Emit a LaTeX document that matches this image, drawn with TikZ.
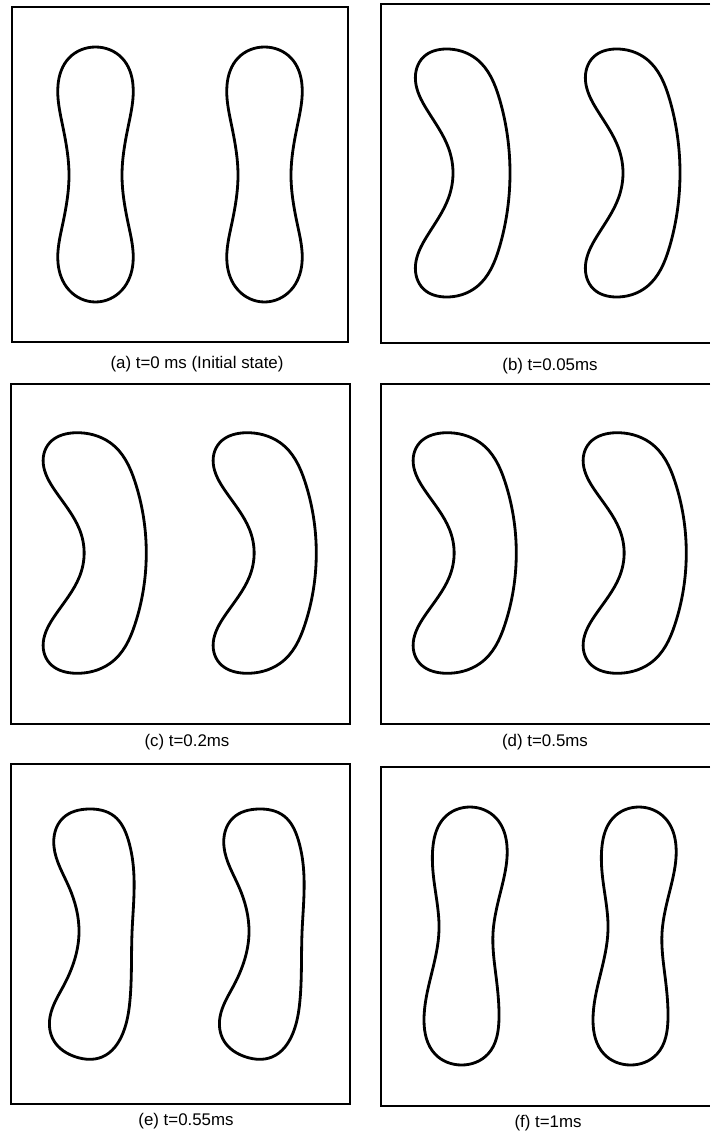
\documentclass[tikz,border=0pt]{standalone}
\usepackage{fontspec}
\setmainfont{Liberation Sans}
\usetikzlibrary{hobby}

\begin{document}
\begin{tikzpicture}[x=0.02cm,y=-0.02cm,
  frm/.style={draw,line width=0.6pt},
  blob/.style={draw,line width=1.6pt},
  lbl/.style={font=\fontsize{9.6}{11}\selectfont,inner sep=0pt}]
\useasboundingbox (0,0) rectangle (710,1139);
% frames
\draw[frm] (12,7) rectangle (348,342);
\draw[frm] (710,4) -| (381,343) -- (710,343);
\draw[frm] (11,384) rectangle (350,724);
\draw[frm] (710,384) -| (381,724) -- (710,724);
\draw[frm] (11,764) rectangle (350,1104);
\draw[frm] (710,767) -| (381,1106) -- (710,1106);
% (a) initial
\foreach \dx in {0,169}
  \draw[blob,shift={(95.5+\dx,175)}] plot[closed hobby] coordinates {
    (0,-128) (26.5,-117) (37.5,-90) (33,-50) (26.5,0) (33,50) (37.5,88) (26.5,115)
    (0,127) (-26.5,115) (-37.5,88) (-33,50) (-26.5,0) (-33,-50) (-37.5,-90) (-26.5,-117)};
% (b)
\foreach \dx in {0,170}
  \draw[blob,shift={(462.5+\dx,173)}] plot[closed hobby] coordinates {
    (-17,-124) (14,-114) (37,-74) (47.5,0) (37,74) (14,114) (-17,124) (-39,116)
    (-47,92) (-36,64) (-14,25) (-9.5,0) (-14,-25) (-36,-64) (-47,-92) (-39,-116)};
% (c) and (d)
\foreach \cx in {94.5,264.5,464.5,634.5}
  \draw[blob,shift={(\cx,553)},xscale=1.09,yscale=0.97] plot[closed hobby] coordinates {
    (-17,-124) (14,-114) (37,-74) (47.5,0) (37,74) (14,114) (-17,124) (-39,116)
    (-47,92) (-36,64) (-14,25) (-9.5,0) (-14,-25) (-36,-64) (-47,-92) (-39,-116)};
% (e)
\foreach \dx in {0,170}
  \draw[blob,shift={(90+\dx,933)}] plot[closed hobby] coordinates {
    (-2,-124) (24,-117) (38,-94) (44,-56) (42,0) (40,67) (33,100) (12,124)
    (-14,124) (-36,108) (-40,84) (-26,52) (-11,0) (-21,-46) (-36,-86) (-27,-115)};
% (f)
\foreach \dx in {0,169}
  \draw[blob,shift={(466+\dx,936)}] plot[closed hobby] coordinates {
    (4,-129) (30,-118) (41,-90) (36,-50) (27,-3) (30,40) (33,82) (22,118)
    (-4.5,129) (-31,118) (-42,85) (-35,40) (-27,-6) (-32,-55) (-33,-90) (-22,-118)};
% captions
\node[lbl] (la) at (197,364) {(a) t=0 ms (Initial state)};
\node[lbl] (lb) at (550,366) {(b) t=0.05ms};
\node[lbl] (lc) at (187,742) {(c) t=0.2ms};
\node[lbl] (ld) at (545,742) {(d) t=0.5ms};
\node[lbl] (le) at (186,1121) {(e) t=0.55ms};
\node[lbl] (lf) at (548,1123) {(f) t=1ms};
\end{tikzpicture}
\end{document}
